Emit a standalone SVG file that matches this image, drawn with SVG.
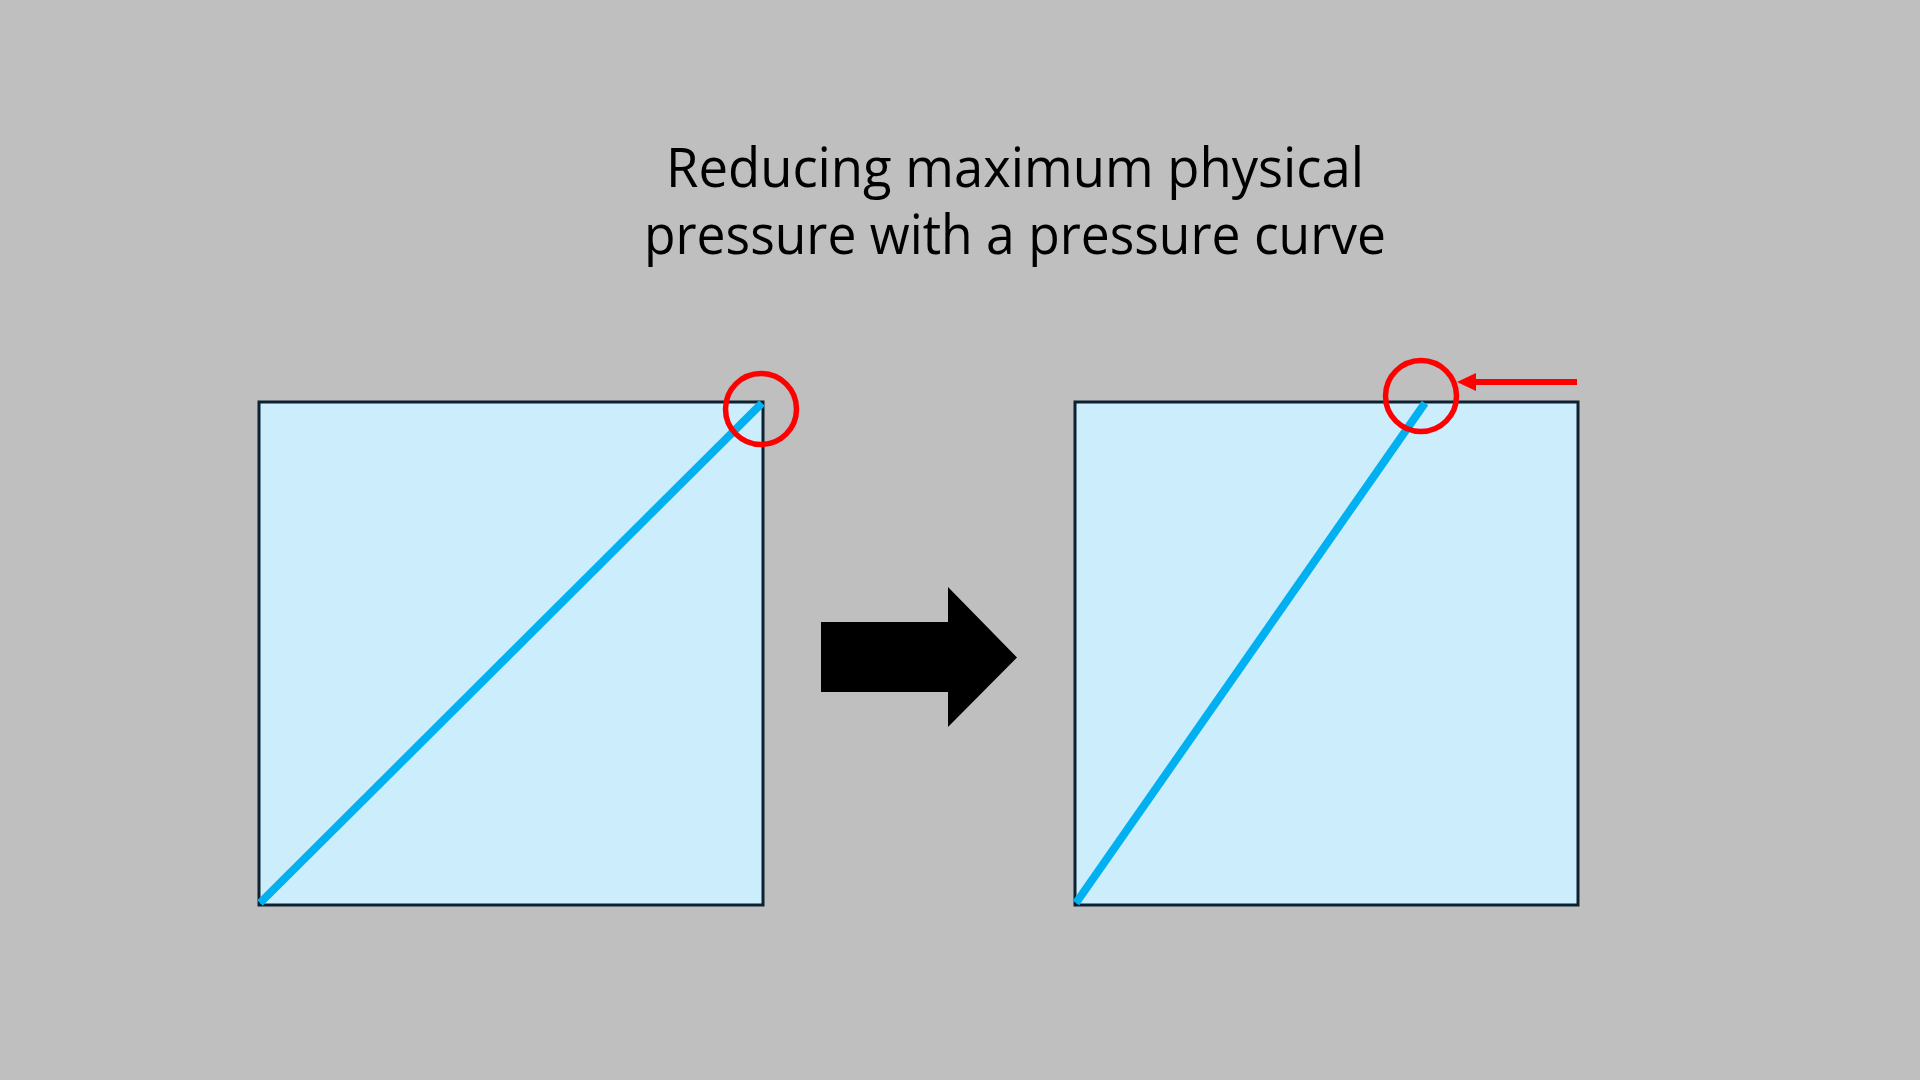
<svg xmlns="http://www.w3.org/2000/svg" width="1920" height="1080" viewBox="0 0 1920 1080">
<style>
.title{font-family:"Open Sans","Noto Sans","Liberation Sans",sans-serif;font-size:55px;fill:#000;text-anchor:middle}
.box{fill:#CCEEFC;stroke:#0C2233;stroke-width:3}
.curve{stroke:#00B0F0;stroke-width:8;fill:none}
.ring{fill:none;stroke:#FF0000;stroke-width:5.5}
</style>
<rect width="1920" height="1080" fill="#BFBFBF"/>
<g id="title">
<text class="title" x="1015" y="187" textLength="698" lengthAdjust="spacingAndGlyphs">Reducing maximum physical</text>
<text class="title" x="1015" y="254" textLength="742" lengthAdjust="spacingAndGlyphs">pressure with a pressure curve</text>
</g>
<g id="left-chart">
<rect class="box" x="259" y="402" width="504" height="503"/>
<line class="curve" x1="260" y1="903" x2="762" y2="403"/>
<circle class="ring" cx="761" cy="409" r="35.5"/>
</g>
<g id="right-chart">
<rect class="box" x="1075" y="402" width="503" height="503"/>
<line class="curve" x1="1076" y1="903" x2="1425" y2="403"/>
<circle class="ring" cx="1421" cy="396" r="35.5"/>
</g>
<g id="big-arrow">
<polygon points="821,622 948,622 948,587 1017,657.5 948,727 948,692 821,692" fill="#000"/>
</g>
<g id="connectors">
<line x1="1577" y1="382" x2="1475" y2="382" stroke="#FF0000" stroke-width="6"/>
<path d="M1457,382 L1476,373 L1476,391 Z" fill="#FF0000"/>
</g>
</svg>
